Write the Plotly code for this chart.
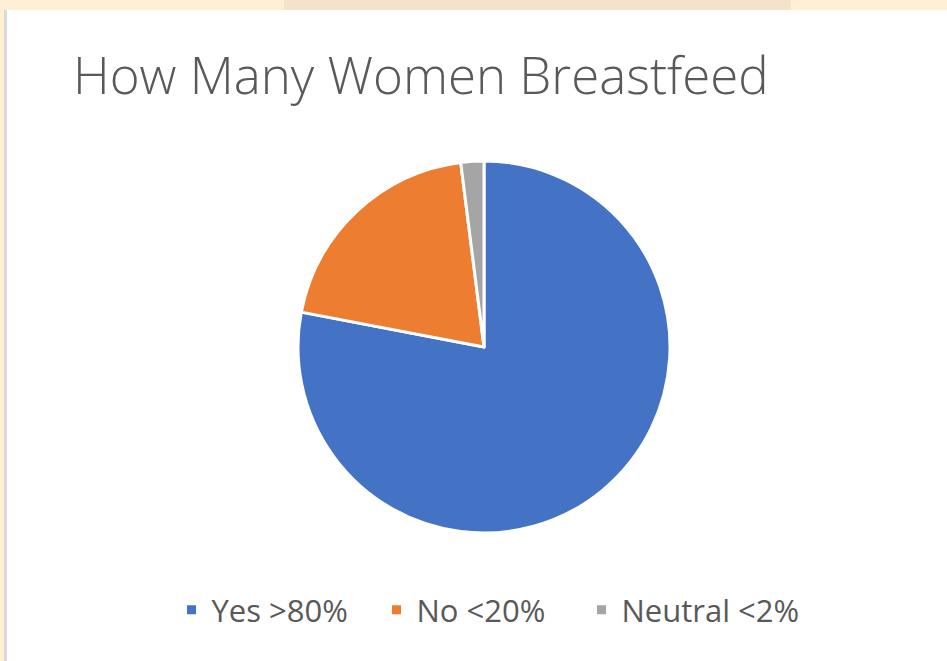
import plotly.graph_objects as go

labels = ["Yes >80%", "No <20%", "Neutral <2%"]
values = [78, 20, 2]
colors = ["#4472C4", "#ED7D31", "#A5A5A5"]
title_text = "How Many Women Breastfeed"

W, H = 947, 661

def px_x(x):
    return x / W

def px_y(y):
    return 1 - y / H

cx, cy, r = 484, 347, 186

fig = go.Figure()
fig.add_trace(go.Pie(
    labels=labels,
    values=values,
    marker=dict(colors=colors, line=dict(color="white", width=3)),
    sort=False,
    direction="clockwise",
    rotation=0,
    textinfo="none",
    hoverinfo="label+percent",
    domain=dict(x=[px_x(cx - r), px_x(cx + r)], y=[px_y(cy + r), px_y(cy - r)]),
))

shapes = [
    dict(type="rect", xref="paper", yref="paper", x0=0, x1=1, y0=px_y(10), y1=1,
         fillcolor="#FFEFD5", line=dict(width=0), layer="above"),
    dict(type="rect", xref="paper", yref="paper", x0=px_x(284), x1=px_x(791), y0=px_y(10), y1=1,
         fillcolor="#F2E3CA", line=dict(width=0), layer="above"),
    dict(type="rect", xref="paper", yref="paper", x0=0, x1=px_x(4), y0=0, y1=1,
         fillcolor="#FFEFD5", line=dict(width=0), layer="above"),
    dict(type="rect", xref="paper", yref="paper", x0=px_x(4), x1=px_x(7), y0=0, y1=px_y(10),
         fillcolor="#D9D9D9", line=dict(width=0), layer="above"),
]

fig.update_layout(
    width=W, height=H,
    margin=dict(l=0, r=0, t=0, b=0),
    paper_bgcolor="white",
    plot_bgcolor="white",
    shapes=shapes,
    showlegend=True,
    legend=dict(
        orientation="h",
        x=px_x(479), xanchor="center",
        y=px_y(610), yanchor="middle",
        font=dict(family="Open Sans", size=31, color="#595959"),
        entrywidth=160,
        entrywidthmode="pixels",
        tracegroupgap=0,
        bgcolor="rgba(0,0,0,0)",
    ),
    annotations=[dict(
        text=title_text, xref="paper", yref="paper",
        x=px_x(71), y=px_y(74), xanchor="left", yanchor="middle",
        showarrow=False,
        font=dict(family="Open Sans", size=51, color="#595959", weight=300),
    )],
)

post = (
    "document.body.style.margin='0';document.body.style.overflow='hidden';"
    "document.querySelectorAll('.legend .scrollbox').forEach(function(e){e.removeAttribute('clip-path');e.style.clipPath='none';});"
)
fig.write_html("out.html", config={"displayModeBar": False}, post_script=post)
